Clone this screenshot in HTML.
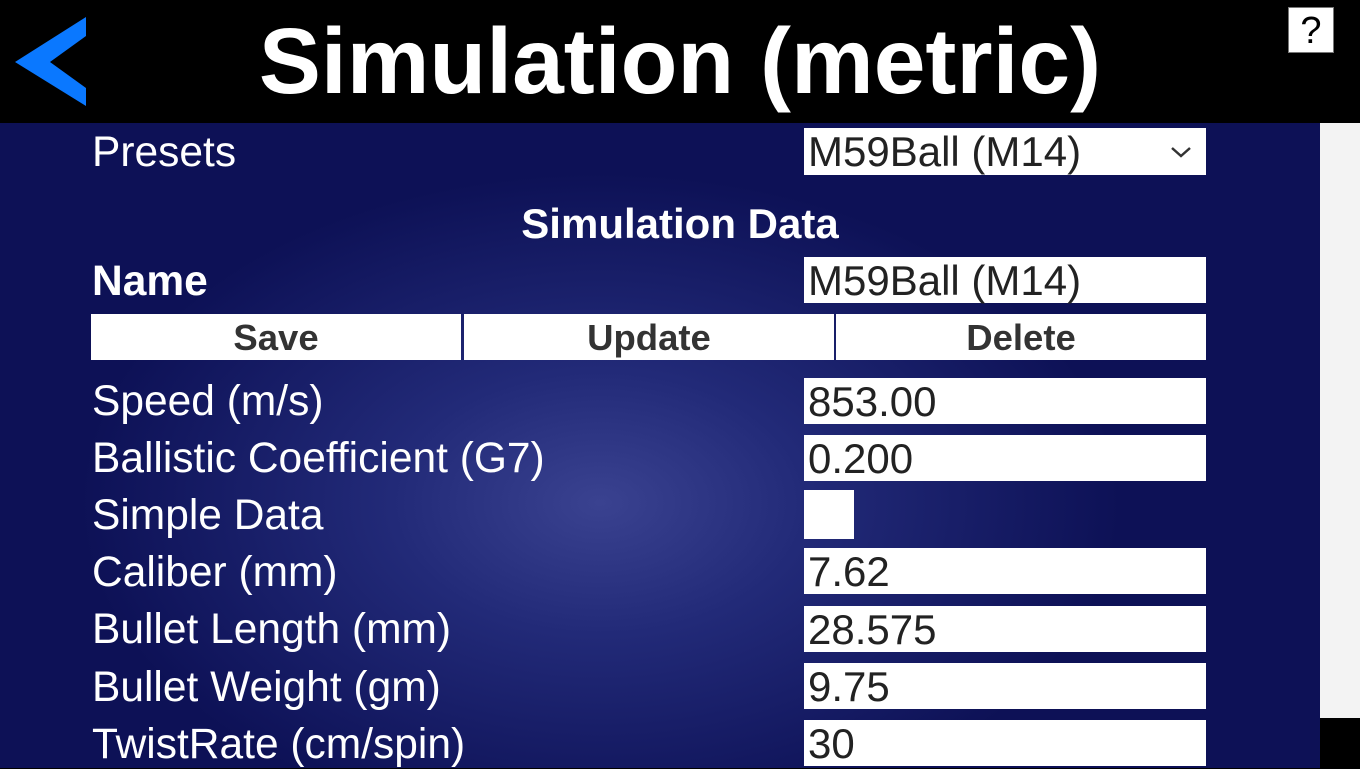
<!DOCTYPE html>
<html><head><meta charset="utf-8"><style>
*{margin:0;padding:0;box-sizing:border-box}
body{width:1360px;height:768px;overflow:hidden;background:#000;font-family:"Liberation Sans",sans-serif;position:relative}
.hdr{position:absolute;left:0;top:0;width:1360px;height:123px;background:#000}
.title{position:absolute;left:0;width:1360px;top:6px;text-align:center;color:#fff;font-weight:bold;font-size:93px;line-height:110px}
.help{position:absolute;left:1288px;top:7px;width:46px;height:46px;background:#fff;border:1px solid #777;text-align:center;font-size:38px;line-height:46px;color:#000}
.main{position:absolute;left:0;top:123px;width:1320px;height:645px;background:radial-gradient(ellipse 520px 330px at 600px 380px,#3a4290 0%,#222a78 40%,#0d1156 100%)}
.side{position:absolute;left:1320px;top:123px;width:40px;height:595px;background:#f3f3f3}
.lbl{position:absolute;left:92px;color:#fff;font-size:42.5px;line-height:48px;white-space:nowrap}
.box{position:absolute;left:804px;width:402px;height:46px;background:#fff;color:#222;font-size:42px;line-height:48px;padding-left:4px;white-space:nowrap}
.btn{position:absolute;top:314px;height:46px;background:#fff;color:#333;font-weight:bold;font-size:36.5px;line-height:48px;text-align:center}
</style></head><body>
<div class="hdr"></div>
<svg style="position:absolute;left:0;top:0" width="100" height="123"><polygon points="86,17 86,36 50,62 86,88 86,106 15,62" fill="#0a78ff"/></svg>
<div class="title">Simulation (metric)</div>
<div class="help">?</div>
<div class="main"></div>
<div class="side"></div>
<div class="lbl" style="top:129px">Presets</div>
<div class="box" style="top:128px;height:47px">M59Ball (M14)<svg style="position:absolute;right:14px;top:18px" width="22" height="12"><polyline points="2,2 11,10 20,2" fill="none" stroke="#333" stroke-width="2.5"/></svg></div>
<div style="position:absolute;left:0;width:1360px;top:200px;text-align:center;color:#fff;font-weight:bold;font-size:42px;line-height:48px">Simulation Data</div>
<div class="lbl" style="top:258px;font-weight:bold">Name</div>
<div class="box" style="top:257px">M59Ball (M14)</div>
<div class="btn" style="left:91px;width:370px">Save</div>
<div class="btn" style="left:464px;width:370px">Update</div>
<div class="btn" style="left:836px;width:370px">Delete</div>
<div class="lbl" style="top:378px">Speed (m/s)</div><div class="box" style="top:378px">853.00</div>
<div class="lbl" style="top:435px">Ballistic Coefficient (G7)</div><div class="box" style="top:435px">0.200</div>
<div class="lbl" style="top:492px">Simple Data</div><div class="box" style="top:490px;width:50px;height:49px"></div>
<div class="lbl" style="top:549px">Caliber (mm)</div><div class="box" style="top:548px">7.62</div>
<div class="lbl" style="top:606px">Bullet Length (mm)</div><div class="box" style="top:606px">28.575</div>
<div class="lbl" style="top:664px">Bullet Weight (gm)</div><div class="box" style="top:663px">9.75</div>
<div class="lbl" style="top:721px">TwistRate (cm/spin)</div><div class="box" style="top:720px">30</div>
</body></html>
